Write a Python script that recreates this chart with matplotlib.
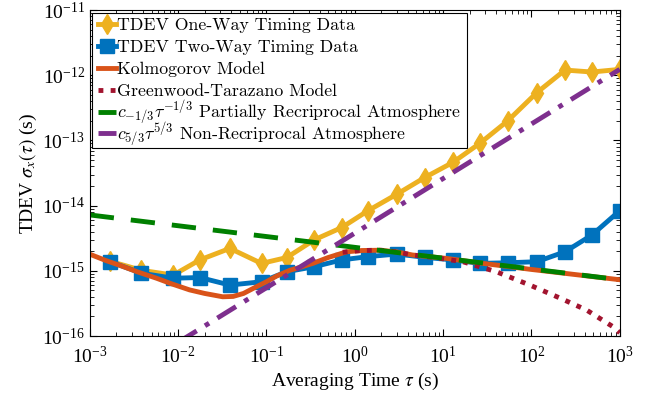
import numpy as np
import matplotlib
matplotlib.use("Agg")
import matplotlib.pyplot as plt
from matplotlib.offsetbox import TextArea
from matplotlib.transforms import Bbox

plt.rcParams["font.family"] = ["Liberation Serif", "DejaVu Serif"]
plt.rcParams["mathtext.fontset"] = "stix"

# averaging times of the measured points (s)
TAU = [1.7e-3, 3.85e-3, 8.8e-3, 1.76e-2, 3.86e-2, 8.8e-2, 0.17, 0.35, 0.71, 1.4,
       3.0, 6.2, 12.9, 26, 54, 115, 240, 484, 1000]

ONE_WAY = [1.4e-15, 1.02e-15, 8.6e-16, 1.47e-15, 2.21e-15, 1.30e-15, 1.6e-15, 3.0e-15, 4.6e-15, 8.3e-15,
           1.5e-14, 2.7e-14, 4.6e-14, 9.0e-14, 2.0e-13, 5.4e-13, 1.2e-12, 1.12e-12, 1.23e-12]
TWO_WAY = [1.38e-15, 9.2e-16, 7.7e-16, 7.9e-16, 6.05e-16, 6.8e-16, 9.7e-16, 1.16e-15, 1.47e-15, 1.65e-15,
           1.81e-15, 1.61e-15, 1.47e-15, 1.30e-15, 1.33e-15, 1.38e-15, 1.96e-15, 3.54e-15, 8.36e-15]

# Kolmogorov model curve
KOLM_TAU = [1e-3, 1.5e-3, 2.4e-3, 3.5e-3, 5.7e-3, 8.5e-3, 1.35e-2, 2e-2, 3.2e-2, 4.2e-2, 5.5e-2, 7.7e-2,
            0.1, 0.13, 0.184, 0.25, 0.335, 0.5, 0.81, 1.2, 1.92, 3, 4.5, 6, 11, 26, 100, 1000]
KOLM = [1.8e-15, 1.45e-15, 1.16e-15, 9.6e-16, 7.7e-16, 6.3e-16, 5.1e-16, 4.5e-16, 4.0e-16, 4.05e-16, 4.5e-16, 5.7e-16,
        6.8e-16, 8.3e-16, 1.02e-15, 1.15e-15, 1.3e-15, 1.6e-15, 1.96e-15, 2.05e-15, 2.07e-15, 1.95e-15, 1.75e-15,
        1.68e-15, 1.55e-15, 1.32e-15, 1.05e-15, 7.3e-16]

# Greenwood-Tarazano model curve
GT_TAU = [0.73, 1.2, 2, 3, 4.5, 8, 16.7, 40, 96, 210, 422, 838, 1000]
GT = [1.93e-15, 2.05e-15, 2.07e-15, 1.95e-15, 1.75e-15, 1.6e-15, 1.38e-15, 9.7e-16, 6.05e-16, 3.83e-16,
      2.5e-16, 1.39e-16, 1.12e-16]

# power-law asymptotes, endpoints
PART_TAU = [1e-3, 1e3]
PART = [7.2e-15, 7.3e-16]
NONREC_TAU = [1.0e-2, 1e3]
NONREC = [8.0e-17, 1.23e-12]

LABELS = ["TDEV One-Way Timing Data",
          "TDEV Two-Way Timing Data",
          "Kolmogorov Model",
          "Greenwood-Tarazano Model",
          r"$c_{-1/3}\tau^{-1/3}$ Partially Recriprocal Atmosphere",
          r"$c_{5/3}\tau^{5/3}$ Non-Recriprocal Atmosphere"]

COLORS = ["#EDB120", "#0072BD", "#D95319", "#A2142F", "#008000", "#7E2F8E"]

fig = plt.figure(figsize=(6.6, 4.01), dpi=100)
ax = fig.add_axes([0.136, 0.162, 0.803, 0.813])

ax.plot(TAU, ONE_WAY, color=COLORS[0], lw=3.5, marker="d", ms=10, label=LABELS[0])
ax.plot(TAU, TWO_WAY, color=COLORS[1], lw=3.5, marker="s", ms=9.5, label=LABELS[1])
ax.plot(KOLM_TAU, KOLM, color=COLORS[2], lw=3.5, label=LABELS[2])
ax.plot(GT_TAU, GT, color=COLORS[3], lw=3.5, linestyle=(0, (1, 1.5)), label=LABELS[3])
ax.plot(PART_TAU, PART, color=COLORS[4], lw=3.5, linestyle=(0, (5, 3.5)), label=LABELS[4])
ax.plot(NONREC_TAU, NONREC, color=COLORS[5], lw=3.5, linestyle=(0, (4.5, 2, 1, 2)), label=LABELS[5])

ax.set_xscale("log")
ax.set_yscale("log")
ax.set_xlim(1e-3, 1e3)
ax.set_ylim(1e-16, 1e-11)
ax.set_xticks([1e-3, 1e-2, 1e-1, 1e0, 1e1, 1e2, 1e3])
ax.set_yticks([1e-16, 1e-15, 1e-14, 1e-13, 1e-12, 1e-11])
ax.tick_params(which="both", direction="in", top=True, right=True, labelsize=14)
ax.tick_params(axis="x", which="major", pad=7)
ax.tick_params(which="major", length=5)
ax.tick_params(which="minor", length=3)
ax.set_xlabel(r"Averaging Time $\tau$ (s)", fontsize=14, labelpad=3)
ax.set_ylabel(r"TDEV $\sigma_x(\tau)$ (s)", fontsize=14, labelpad=2)

legend = ax.legend(loc="upper left", prop={"family": "cmr10", "size": 12.8}, handlelength=1.0,
                   handletextpad=0.1, borderpad=0.3, labelspacing=0.36, borderaxespad=0.15,
                   fancybox=False, framealpha=1)
frame = legend.get_frame()
frame.set_edgecolor("black")
frame.set_linewidth(0.8)
for t in legend.get_texts():
    t.set_math_fontfamily("cm")

# make every legend row the same height (math labels are taller otherwise)
try:
    renderer = fig.canvas.get_renderer()
    areas = legend.findobj(TextArea)
    bb0 = areas[0].get_bbox(renderer)

    def fixed_bbox(area, ref=bb0):
        orig = area.get_bbox

        def get_bbox(renderer):
            bb = orig(renderer)
            return Bbox.from_bounds(bb.x0, ref.y0, bb.width, ref.height)
        return get_bbox

    for a in areas:
        a.get_bbox = fixed_bbox(a)
except Exception as e:
    print("legend row fix skipped:", e)

fig.savefig("out.png", dpi=100)
